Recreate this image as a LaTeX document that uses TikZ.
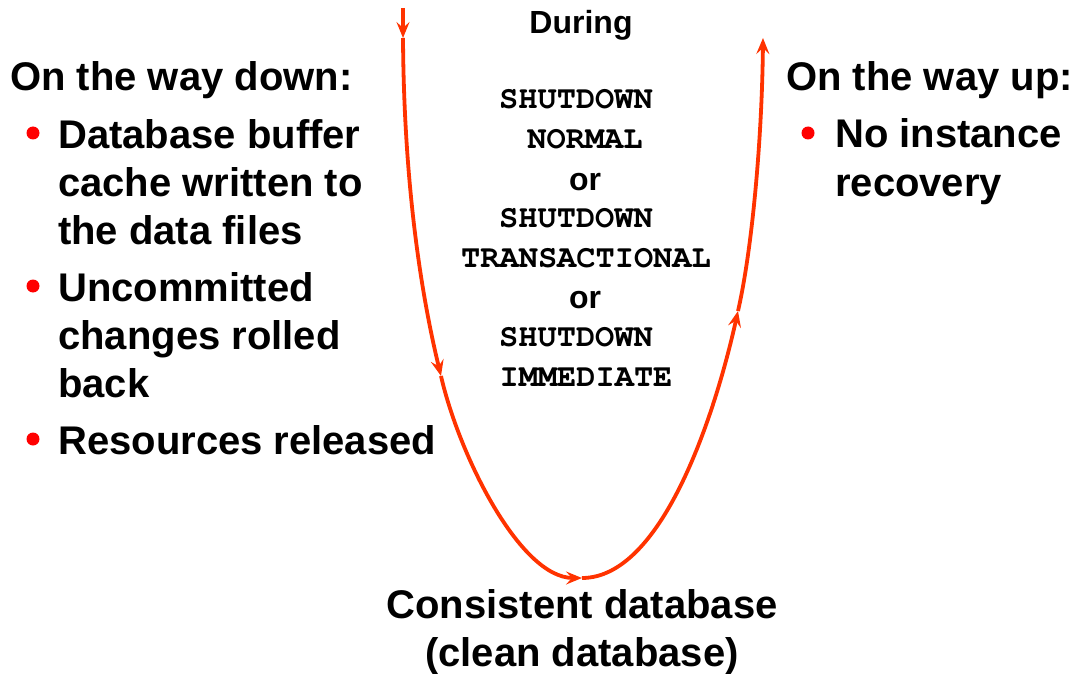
\documentclass[tikz,border=0pt]{standalone}
\usepackage{fontspec}
\setmainfont{Liberation Sans}
\newfontfamily\codefont{texgyrecursor}[Extension=.otf, UprightFont=*-regular, BoldFont=*-bold]
\usetikzlibrary{arrows.meta}
\definecolor{flow}{RGB}{255,51,0}
\definecolor{dotred}{RGB}{255,0,0}
\tikzset{
  big/.style={font=\fontsize{40}{48}\selectfont\bfseries, inner sep=0pt},
  small/.style={font=\fontsize{32}{38}\selectfont\bfseries, inner sep=0pt, anchor=base},
  cmd/.style={font=\fontsize{32}{38}\selectfont\codefont\bfseries, inner sep=0pt, anchor=base},
  item/.style={big, align=left, anchor=base west},
  dot/.style={circle, fill=dotred, inner sep=0pt, minimum size=13pt},
  flowline/.style={draw=flow, line width=3.8pt,
    -{Stealth[length=16pt, width=13pt, inset=6pt]}},
}
\begin{document}
\begin{tikzpicture}[x=1pt, y=-1pt]
\useasboundingbox (0,0) rectangle (1076,674);

% the shutdown / startup loop
\coordinate (entry) at (403,8);
\coordinate (p0) at (403,38);
\coordinate (p1) at (441,376);
\coordinate (p2) at (582,578);
\coordinate (p3) at (738,311);
\coordinate (p4) at (763,38);

\draw[flowline] (entry) -- (p0);
\draw[flowline] (p0) .. controls (404,200) and (425,310) .. (p1);
\draw[flowline] (p1) .. controls (459,455) and (520,578) .. (p2);
\draw[flowline] (p2) .. controls (662,578) and (715,415) .. (p3);
\draw[flowline] (p3) .. controls (752,250) and (762,140) .. (p4);

% middle column
\node[small] (during) at (581,34) {During};
\node[cmd] (sd1) at (576,109) {SHUTDOWN};
\node[cmd] (normal) at (585,149) {NORMAL};
\node[small] (or1) at (585,190) {or};
\node[cmd] (sd2) at (576,227) {SHUTDOWN};
\node[cmd] (trans) at (586,267) {TRANSACTIONAL};
\node[small] (or2) at (585,308) {or};
\node[cmd] (sd3) at (576,346) {SHUTDOWN};
\node[cmd] (immed) at (586,386) {IMMEDIATE};

% left column (multi-line nodes sit on the baseline of their last line)
\node[big, anchor=base west] (down) at (10,91) {On the way down:};
\node[dot] (b1) at (33,133) {};
\node[item] (i1) at (58,244) {Database buffer\\cache written to\\the data files};
\node[dot] (b2) at (33,286) {};
\node[item] (i2) at (58,397) {Uncommitted\\changes rolled\\back};
\node[dot] (b3) at (33,439) {};
\node[item] (i3) at (58,454) {Resources released};

% right column
\node[big, anchor=base west] (up) at (786,91) {On the way up:};
\node[dot] (b4) at (808,133) {};
\node[item] (i4) at (835,196) {No instance\\recovery};

% result
\node[big, anchor=base] (clean) at (582,618) {Consistent database};
\node[big, anchor=base] (clean2) at (582,666) {(clean database)};
\end{tikzpicture}
\end{document}
